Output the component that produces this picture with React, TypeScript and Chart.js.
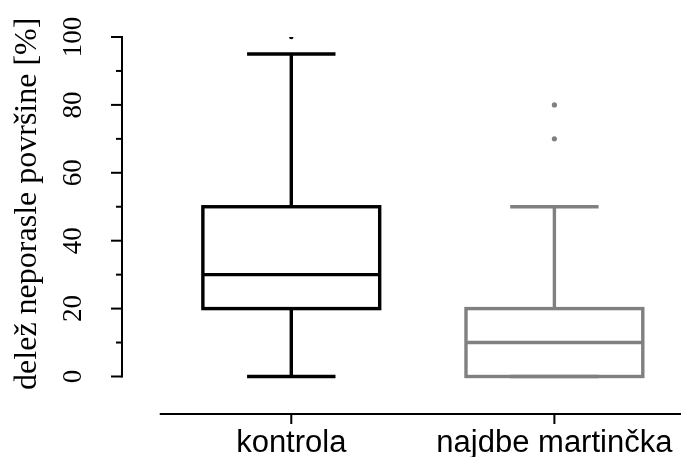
import React, { useEffect, useRef } from "react";
import { Chart, registerables } from "chart.js";

Chart.register(...registerables);

// ---- data ----
const categories = ["kontrola", "najdbe martinčka"];
const whiskerLow = [0, 0];
const q1 = [20, 0];
const median = [30, 10];
const q3 = [50, 20];
const whiskerHigh = [95, 50];
const outliersKontrola = [100];
const outliersNajdbe = [80, 70];
const yTicks = [0, 20, 40, 60, 80, 100];
const yMinorTicks = [10, 30, 50, 70, 90];
const yTitle = "delež neporasle površine [%]";

// ---- styles ----
const boxColors = ["#000000", "#808080"];
const W = 681;
const H = 457;
const BOX_HALF = 0.336;
const CAP_HALF = 0.168;
const X_MIN = 0.3566;
const X_MAX = 2.466;
const Y_MIN = -11.05;
const Y_MAX = 100;

const boxPlugin = {
  id: "rBoxplot",
  afterDraw(chart: any) {
    const { ctx } = chart;
    const x = chart.scales.x;
    const y = chart.scales.y;
    const line = (x1: number, y1: number, x2: number, y2: number) => {
      ctx.beginPath();
      ctx.moveTo(x1, y1);
      ctx.lineTo(x2, y2);
      ctx.stroke();
    };
    ctx.save();
    ctx.lineCap = "butt";
    ctx.lineJoin = "miter";

    // boxes
    categories.forEach((_, i) => {
      const pos = i + 1;
      const cx = x.getPixelForValue(pos);
      const l = x.getPixelForValue(pos - BOX_HALF);
      const r = x.getPixelForValue(pos + BOX_HALF);
      const cl = x.getPixelForValue(pos - CAP_HALF);
      const cr = x.getPixelForValue(pos + CAP_HALF);
      const yLo = y.getPixelForValue(whiskerLow[i]);
      const yHi = y.getPixelForValue(whiskerHigh[i]);
      const yQ1 = y.getPixelForValue(q1[i]);
      const yQ3 = y.getPixelForValue(q3[i]);
      const yMed = y.getPixelForValue(median[i]);
      ctx.strokeStyle = boxColors[i];
      ctx.lineWidth = 3.4;
      line(cx, yQ3, cx, yHi);
      line(cl, yHi, cr, yHi);
      line(cx, yQ1, cx, yLo);
      line(cl, yLo, cr, yLo);
      ctx.strokeRect(l, yQ3, r - l, yQ1 - yQ3);
      line(l, yMed, r, yMed);
    });

    // y axis
    ctx.strokeStyle = "#000";
    ctx.lineWidth = 2;
    const ax = x.getPixelForValue(X_MIN);
    line(ax, y.getPixelForValue(yTicks[0]) + 1, ax, y.getPixelForValue(yTicks[yTicks.length - 1]) - 1);
    yTicks.forEach((t) => {
      const py = y.getPixelForValue(t);
      line(ax - 11, py, ax, py);
    });
    yMinorTicks.forEach((t) => {
      const py = y.getPixelForValue(t);
      line(ax - 6, py, ax, py);
    });
    ctx.fillStyle = "#000";
    ctx.font = "27px 'Liberation Serif', 'Times New Roman', serif";
    ctx.textAlign = "center";
    ctx.textBaseline = "alphabetic";
    yTicks.forEach((t) => {
      const py = y.getPixelForValue(t);
      ctx.save();
      ctx.translate(81, py);
      ctx.rotate(-Math.PI / 2);
      ctx.fillText(String(t), 0, 0);
      ctx.restore();
    });

    // y title
    ctx.font = "32px 'Liberation Serif', 'Times New Roman', serif";
    ctx.save();
    ctx.translate(35.5, (y.getPixelForValue(0) + y.getPixelForValue(100)) / 2 - 3);
    ctx.rotate(-Math.PI / 2);
    ctx.fillText(yTitle, 0, 0);
    ctx.restore();

    // x axis
    const axY = chart.chartArea.bottom;
    line(x.getPixelForValue(0.5), axY, W, axY);
    ctx.font = "31px 'Liberation Sans', Arial, sans-serif";
    categories.forEach((c, i) => {
      const px = x.getPixelForValue(i + 1);
      line(px, axY, px, axY + 10);
      ctx.fillText(c, px, 452);
    });
    ctx.restore();
  },
};

export default function App() {
  const ref = useRef<HTMLCanvasElement | null>(null);
  useEffect(() => {
    if (!ref.current) return;
    const chart = new Chart(ref.current, {
      type: "scatter",
      data: {
        datasets: [
          {
            label: categories[0],
            data: outliersKontrola.map((v) => ({ x: 1, y: v })),
            backgroundColor: boxColors[0],
            borderColor: boxColors[0],
            borderWidth: 0,
            pointRadius: 2.2,
            clip: 0,
          },
          {
            label: categories[1],
            data: outliersNajdbe.map((v) => ({ x: 2, y: v })),
            backgroundColor: boxColors[1],
            borderColor: boxColors[1],
            borderWidth: 0,
            pointRadius: 2.6,
            clip: 0,
          },
        ],
      },
      options: {
        responsive: false,
        animation: false,
        layout: { padding: { left: 122, right: 0, top: 37, bottom: 43 } },
        plugins: { legend: { display: false }, tooltip: { enabled: false } },
        scales: {
          x: { type: "linear", min: X_MIN, max: X_MAX, display: false },
          y: { type: "linear", min: Y_MIN, max: Y_MAX, display: false },
        },
      },
      plugins: [boxPlugin],
    });
    return () => chart.destroy();
  }, []);
  return (
    <div style={{ position: "fixed", left: 0, top: 0, width: W, height: H, background: "#fff" }}>
      <canvas ref={ref} width={W} height={H} style={{ display: "block" }} />
    </div>
  );
}
